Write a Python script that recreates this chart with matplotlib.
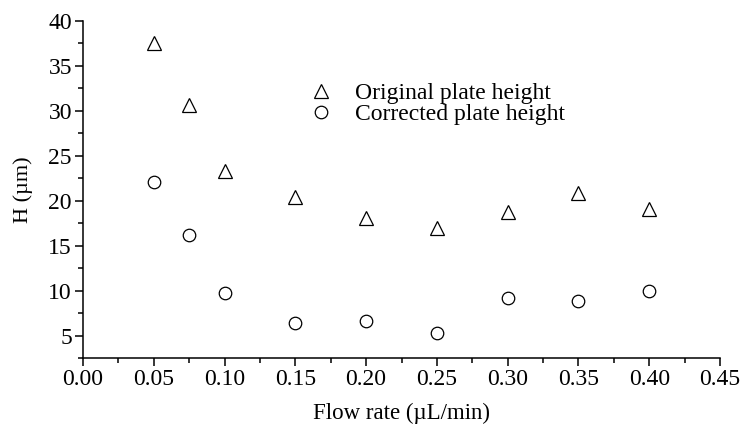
import matplotlib
matplotlib.use("Agg")
import matplotlib.pyplot as plt
from matplotlib.ticker import MultipleLocator, FormatStrFormatter

flow_rate = [0.05, 0.075, 0.10, 0.15, 0.20, 0.25, 0.30, 0.35, 0.40]
original_h = [37.6, 30.7, 23.3, 20.4, 18.1, 17.0, 18.7, 20.9, 19.1]
corrected_h = [22.1, 16.2, 9.7, 6.4, 6.6, 5.3, 9.15, 8.85, 9.9]

plt.rcParams['font.family'] = ['Liberation Serif', 'DejaVu Serif']

fig = plt.figure(figsize=(7.45, 4.36), dpi=100)
ax = fig.add_axes([83 / 745, 1 - 358 / 436, (720 - 83) / 745, (358 - 21) / 436])

ax.plot(flow_rate, original_h, linestyle='none', marker='^', ms=9.5,
        mfc='none', mec='black', mew=0.9, label='Original plate height')
ax.plot(flow_rate, corrected_h, linestyle='none', marker='o', ms=9,
        mfc='none', mec='black', mew=0.9, label='Corrected plate height')

ax.set_xlim(0, 0.45)
ax.set_ylim(2.5, 40)
ax.xaxis.set_major_locator(MultipleLocator(0.05))
ax.xaxis.set_minor_locator(MultipleLocator(0.025))
ax.yaxis.set_minor_locator(MultipleLocator(2.5))
ax.set_yticks([5, 10, 15, 20, 25, 30, 35, 40])
ax.xaxis.set_major_formatter(FormatStrFormatter('%.2f'))

for side in ('top', 'right'):
    ax.spines[side].set_visible(False)
for side in ('left', 'bottom'):
    ax.spines[side].set_linewidth(1.1)

ax.tick_params(which='major', direction='out', length=6, width=1.1, labelsize=17, pad=2)
ax.tick_params(which='minor', direction='out', length=3.5, width=1.1)

ax.set_xlabel('Flow rate (\u00b5L/min)', fontsize=16.5, labelpad=9)
ax.set_ylabel('H (\u00b5m)', fontsize=16, labelpad=11)

ax.legend(loc='upper left', bbox_to_anchor=(0.333, 0.852), frameon=False,
          fontsize=17, handletextpad=0.85, labelspacing=-0.03, handlelength=1.2,
          borderpad=0)

fig.savefig('out.png', dpi=100)
